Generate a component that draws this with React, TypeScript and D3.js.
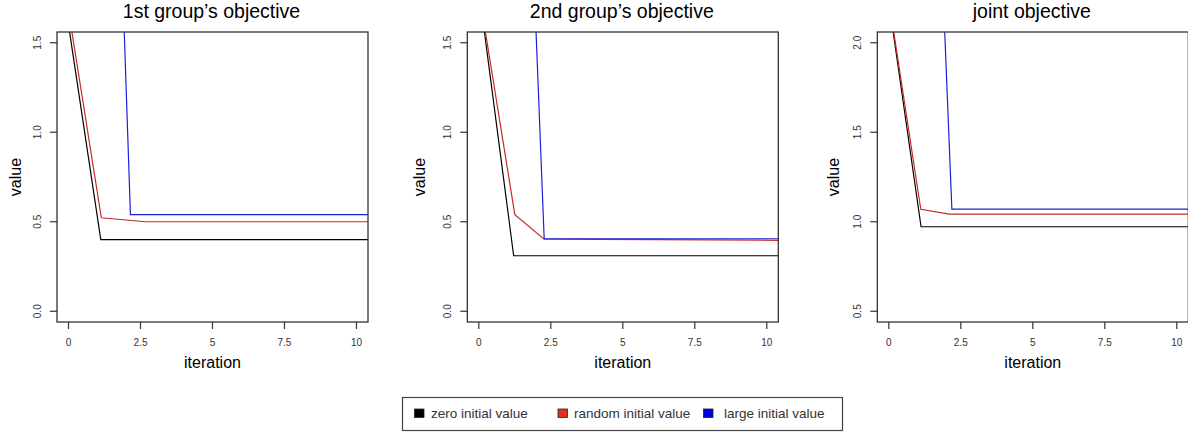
import React, { useEffect, useRef } from "react";
import * as d3 from "d3";

// iteration / value pairs
const zeroX1 = [0, 1.12, 11];
const zeroY1 = [1.6, 0.4, 0.4];
const randX1 = [0, 1.14, 2.67, 11];
const randY1 = [1.68, 0.522, 0.5, 0.5];
const largeX1 = [1, 2.15, 11];
const largeY1 = [6.0, 0.54, 0.54];

const zeroX2 = [0, 1.21, 11];
const zeroY2 = [1.8, 0.31, 0.31];
const randX2 = [0, 1.25, 2.27, 11];
const randY2 = [1.79, 0.54, 0.403, 0.396];
const largeX2 = [1, 2.27, 11];
const largeY2 = [5.6, 0.405, 0.405];

const zeroX3 = [0, 1.12, 11];
const zeroY3 = [2.23, 0.972, 0.972];
const randX3 = [0, 1.11, 2.1, 11];
const randY3 = [2.24, 1.07, 1.043, 1.043];
const largeX3 = [1, 2.19, 11];
const largeY3 = [5.8, 1.07, 1.07];

const titles = ["1st group\u2019s objective", "2nd group\u2019s objective", "joint objective"];
const xTicks = [0, 2.5, 5, 7.5, 10];
const xTickLabels = ["0", "2.5", "5", "7.5", "10"];
const yTicks12 = [0, 0.5, 1.0, 1.5];
const yTicks3 = [0.5, 1.0, 1.5, 2.0];
const yDomain12 = [-0.06, 1.56];
const yDomain3 = [0.44, 2.06];

const seriesNames = ["zero initial value", "random initial value", "large initial value"];
const lineColors = ["#000000", "#c82a2a", "#1f1fd8"];
const keyColors = ["#000000", "#e0321e", "#0000e0"];

const panels = [
  { left: 57, labelX: 16, yTicks: yTicks12, yDomain: yDomain12,
    series: [[zeroX1, zeroY1], [randX1, randY1], [largeX1, largeY1]] },
  { left: 467.3, labelX: 419.5, yTicks: yTicks12, yDomain: yDomain12,
    series: [[zeroX2, zeroY2], [randX2, randY2], [largeX2, largeY2]] },
  { left: 877.3, labelX: 833.5, yTicks: yTicks3, yDomain: yDomain3,
    series: [[zeroX3, zeroY3], [randX3, randY3], [largeX3, largeY3]] },
];

const W = 1188;
const H = 434;

const App = () => {
  const svgRef = useRef(null);

  useEffect(() => {
    const svg = d3.select(svgRef.current);
    svg.selectAll("*").remove();

    const top = 32;
    const bottom = 322;
    const pw = 311;
    const font = "'Liberation Sans', Arial, sans-serif";

    panels.forEach((p, i) => {
      const x = d3.scaleLinear().domain([-0.4, 10.4]).range([p.left, p.left + pw]);
      const y = d3.scaleLinear().domain(p.yDomain).range([bottom, top]);
      const g = svg.append("g");

      const clipId = `clip${i}`;
      svg.append("clipPath").attr("id", clipId)
        .append("rect").attr("x", p.left).attr("y", top)
        .attr("width", pw).attr("height", bottom - top);

      const line = d3.line().x((d) => x(d[0])).y((d) => y(d[1]));
      p.series.forEach(([xs, ys], k) => {
        const pts = xs.map((v, j) => [v, ys[j]]);
        g.append("path")
          .attr("d", line(pts))
          .attr("clip-path", `url(#${clipId})`)
          .attr("fill", "none")
          .attr("stroke", lineColors[k])
          .attr("stroke-width", 1.2);
      });

      // frame
      g.append("rect")
        .attr("x", p.left).attr("y", top)
        .attr("width", pw).attr("height", bottom - top)
        .attr("fill", "none").attr("stroke", "#333").attr("stroke-width", 1.3);

      // x ticks
      xTicks.forEach((t, j) => {
        g.append("line")
          .attr("x1", x(t)).attr("x2", x(t))
          .attr("y1", bottom).attr("y2", bottom + 7)
          .attr("stroke", "#333").attr("stroke-width", 1.2);
        g.append("text")
          .attr("x", x(t)).attr("y", bottom + 24)
          .attr("text-anchor", "middle")
          .attr("font-family", font).attr("font-size", 10)
          .attr("fill", "#333")
          .text(xTickLabels[j]);
      });

      // y ticks
      p.yTicks.forEach((t) => {
        g.append("line")
          .attr("x1", p.left - 7).attr("x2", p.left)
          .attr("y1", y(t)).attr("y2", y(t))
          .attr("stroke", "#333").attr("stroke-width", 1.2);
        g.append("text")
          .attr("transform", `translate(${p.left - 16},${y(t)}) rotate(-90)`)
          .attr("text-anchor", "middle")
          .attr("font-family", font).attr("font-size", 10)
          .attr("fill", "#333")
          .text(d3.format(".1f")(t));
      });

      g.append("text")
        .attr("x", p.left + pw / 2 - 1).attr("y", 18)
        .attr("text-anchor", "middle")
        .attr("font-family", font).attr("font-size", 19.5)
        .attr("fill", "#000")
        .text(titles[i]);

      g.append("text")
        .attr("x", p.left + pw / 2).attr("y", 368)
        .attr("text-anchor", "middle")
        .attr("font-family", font).attr("font-size", 16)
        .attr("fill", "#000")
        .text("iteration");

      g.append("text")
        .attr("transform", `translate(${p.labelX + 5},${(top + bottom) / 2}) rotate(-90)`)
        .attr("text-anchor", "middle")
        .attr("font-family", font).attr("font-size", 16)
        .attr("fill", "#000")
        .text("value");
    });

    // legend
    const lg = svg.append("g");
    lg.append("rect")
      .attr("x", 402.5).attr("y", 397.5).attr("width", 440).attr("height", 33)
      .attr("fill", "#fff").attr("stroke", "#444").attr("stroke-width", 1.2);
    const keyX = [414.5, 558, 703.5];
    const textX = [431, 574, 724];
    seriesNames.forEach((name, k) => {
      lg.append("rect")
        .attr("x", keyX[k]).attr("y", 409).attr("width", 9.5).attr("height", 8.5)
        .attr("fill", keyColors[k]).attr("stroke", "#222").attr("stroke-width", 0.8);
      lg.append("text")
        .attr("x", textX[k]).attr("y", 418)
        .attr("font-family", font).attr("font-size", 13.5)
        .attr("fill", "#333")
        .text(name);
    });
  }, []);

  return (
    <svg
      ref={svgRef}
      width={W}
      height={H}
      style={{ position: "absolute", left: 0, top: 0, background: "#fff" }}
    />
  );
};

export default App;
